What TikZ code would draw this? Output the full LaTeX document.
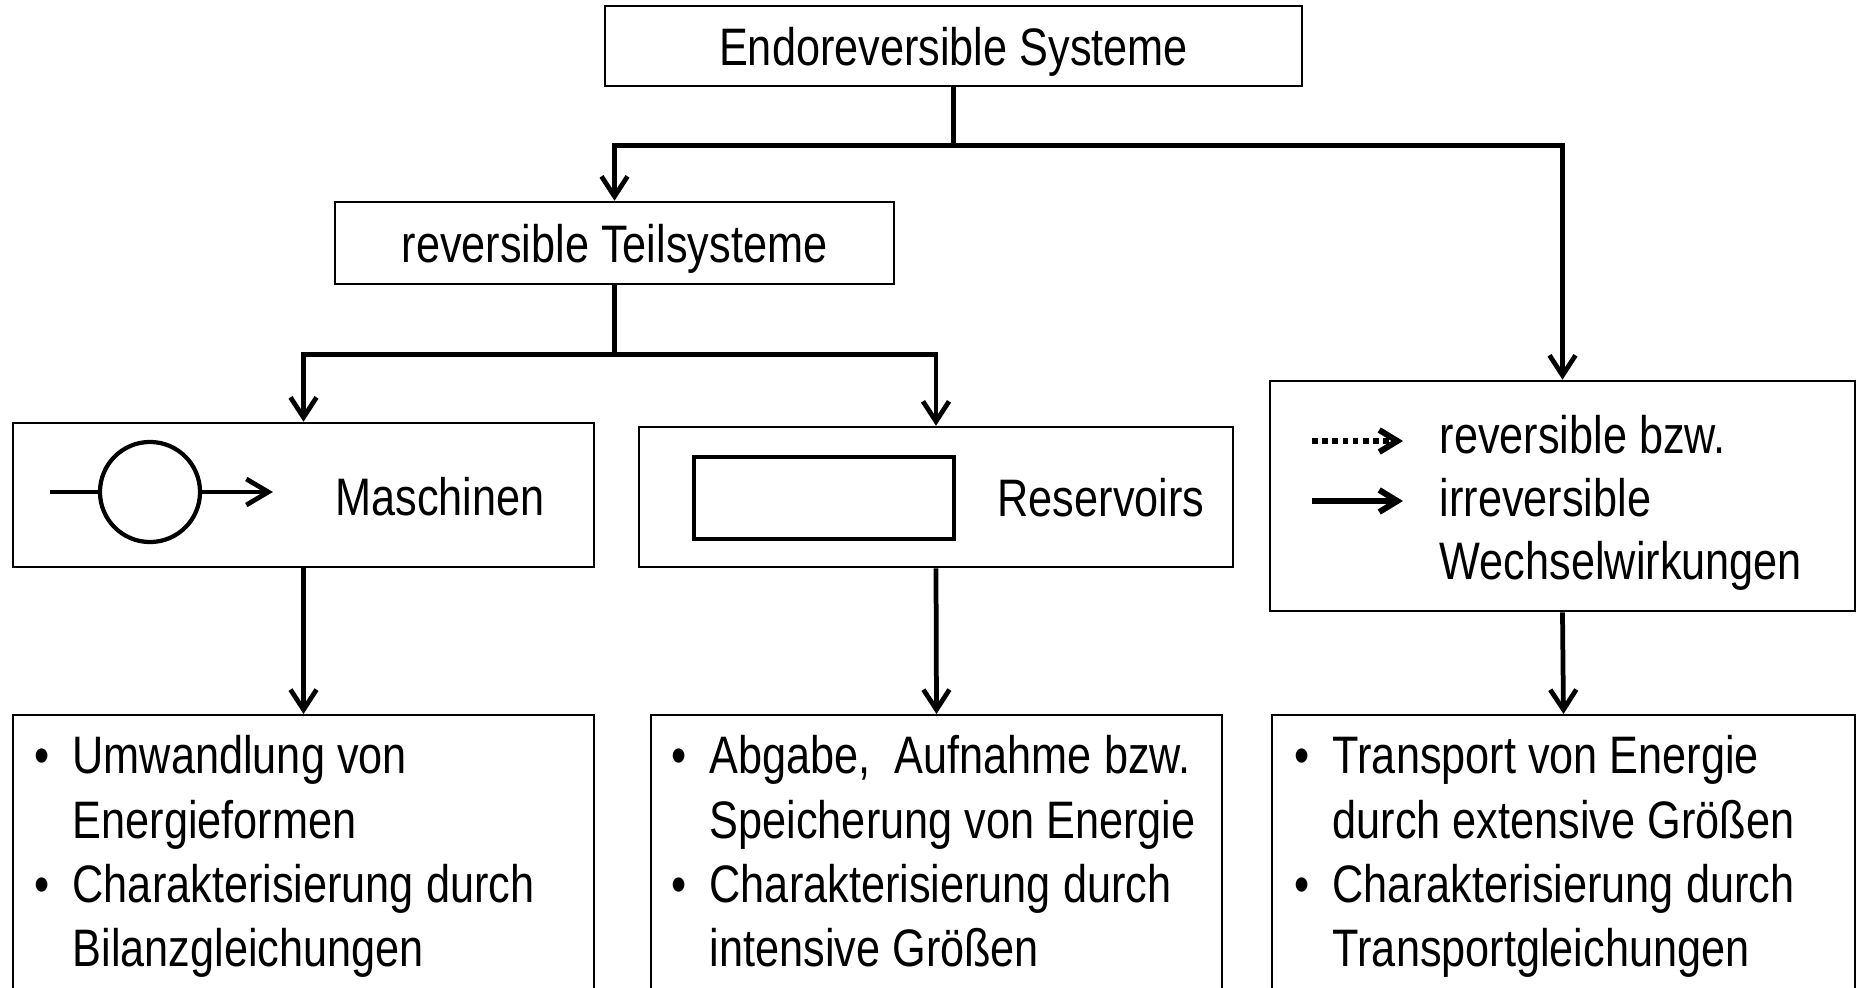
\documentclass[tikz,border=0pt]{standalone}
\usepackage{fontspec}
\setmainfont{Liberation Sans}[FakeStretch=0.82]
\usetikzlibrary{arrows.meta}
\newcommand\itembul{\makebox[0.38cm][l]{\textbullet}}
\newcommand\itemgap{\hspace*{0.38cm}}
\begin{document}
\begin{tikzpicture}[x=0.01cm,y=-0.01cm,
  font=\fontsize{15}{17.9}\selectfont,
  box/.style={draw,line width=0.7pt,inner sep=0pt},
  conn/.style={line width=1.35pt},
  arr/.style={conn,-{Straight Barb[length=2mm,width=2.6mm]}},
  listtext/.style={anchor=north west,align=left,inner sep=0pt,font=\fontsize{15}{18.3}\selectfont}]
  \useasboundingbox (0,0) rectangle (1856,988);
  \node[box,text depth=0pt,minimum width=6.97cm,minimum height=0.8cm] (endo) at (953.5,46) {Endoreversible Systeme};
  \node[box,text depth=0pt,minimum width=5.59cm,minimum height=0.82cm] (teil) at (614.5,243) {reversible Teilsysteme};
  \node[box,minimum width=5.81cm,minimum height=1.44cm] (masch) at (303.5,495) {};
  \node[box,minimum width=5.94cm,minimum height=1.40cm] (res) at (936,497) {};
  \node[box,minimum width=5.85cm,minimum height=2.30cm] (ww) at (1562.5,496) {};
  \node[box,minimum width=5.81cm,minimum height=3cm,anchor=north] (mlist) at (303.5,714) {};
  \node[box,minimum width=5.71cm,minimum height=3cm,anchor=north] (rlist) at (936.5,714) {};
  \node[box,minimum width=5.83cm,minimum height=3cm,anchor=north] (wlist) at (1563.5,714) {};

  \draw[arr] (endo.south) -- ++(0,58) -| (teil.north);
  \draw[arr] (endo.south) -- ++(0,58) -| (ww.north);
  \draw[arr] (teil.south) -- ++(0,69) -| (masch.north);
  \draw[arr] (teil.south) -- ++(0,69) -| (res.north);
  \draw[arr] (masch.south) -- (mlist.north);
  \draw[arr] (res.south) -- (rlist.north);
  \draw[arr] (ww.south) -- (wlist.north);

  \node[circle,draw,line width=1.2pt,minimum size=1cm,inner sep=0pt] (mc) at (150,492) {};
  \coordinate (min) at (50,492);
  \coordinate (mout) at (273,492);
  \draw[conn] (min) -- (mc.west);
  \draw[conn,-{Straight Barb[length=2.2mm,width=2.6mm]}] (mc.east) -- (mout);
  \node (maschl) at (440,497) {Maschinen};

  \node[draw,line width=1.3pt,minimum width=2.6cm,minimum height=0.82cm] (resbox) at (824,498) {};
  \node (resl) at (1101,498) {Reservoirs};

  \coordinate (d1) at (1312,441);
  \coordinate (d2) at (1403,441);
  \coordinate (s1) at (1312,501);
  \coordinate (s2) at (1403,501);
  \draw[line width=1.7pt,dash pattern=on 1.6pt off 1.3pt,-{Straight Barb[length=1.8mm,width=2.2mm,line width=1.7pt]}] (d1) -- (d2);
  \draw[line width=1.5pt,-{Straight Barb[length=1.8mm,width=2.2mm,line width=1.7pt]}] (s1) -- (s2);
  \node[anchor=west,align=left,inner sep=0pt] (wwl) at (1439,503) {reversible bzw.\\irreversible\\Wechselwirkungen};

  \node[listtext] (mtxt) at (34,735) {\itembul Umwandlung von\\\itemgap Energieformen\\\itembul Charakterisierung durch\\\itemgap Bilanzgleichungen};
  \node[listtext] (rtxt) at (671,735) {\itembul Abgabe,\ \ Aufnahme bzw.\\\itemgap Speicherung von Energie\\\itembul Charakterisierung durch\\\itemgap intensive Größen};
  \node[listtext] (wtxt) at (1294,735) {\itembul Transport von Energie\\\itemgap durch extensive Größen\\\itembul Charakterisierung durch\\\itemgap Transportgleichungen};
\end{tikzpicture}
\end{document}
